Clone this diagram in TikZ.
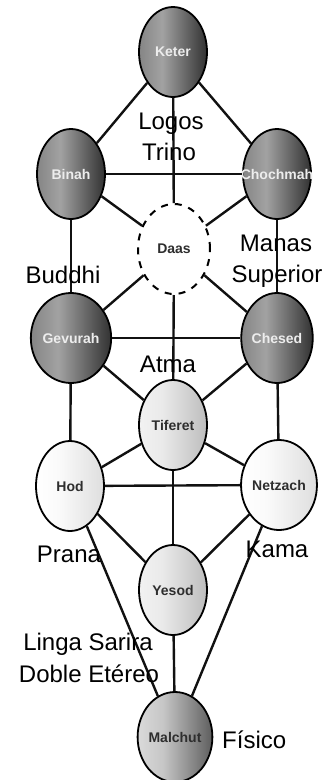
\documentclass[tikz,border=0pt]{standalone}
\usepackage{fontspec}
\setmainfont{Liberation Sans}
\usetikzlibrary{shapes.geometric}
\definecolor{dA}{HTML}{858585}
\definecolor{dB}{HTML}{A2A2A2}
\definecolor{dC}{HTML}{323232}
\definecolor{lA}{HTML}{F2F2F2}
\definecolor{lB}{HTML}{EAEAEA}
\definecolor{lC}{HTML}{BDBDBD}
\definecolor{wA}{HTML}{FFFFFF}
\definecolor{wB}{HTML}{FAFAFA}
\definecolor{wC}{HTML}{DEDEDE}
\definecolor{mA}{HTML}{DADADA}
\definecolor{mB}{HTML}{C6C6C6}
\definecolor{mC}{HTML}{5E5E5E}
\definecolor{inkline}{HTML}{111111}
\definecolor{txtlight}{HTML}{EDEDED}
\definecolor{txtdark}{HTML}{2E2E2E}
\pgfdeclarehorizontalshading{darkS}{100bp}{color(0bp)=(dA); color(25bp)=(dA); color(42bp)=(dB); color(75bp)=(dC); color(100bp)=(dC)}
\pgfdeclarehorizontalshading{lightS}{100bp}{color(0bp)=(lA); color(25bp)=(lA); color(42bp)=(lB); color(75bp)=(lC); color(100bp)=(lC)}
\pgfdeclarehorizontalshading{whiteS}{100bp}{color(0bp)=(wA); color(25bp)=(wA); color(42bp)=(wB); color(75bp)=(wC); color(100bp)=(wC)}
\pgfdeclarehorizontalshading{midS}{100bp}{color(0bp)=(mA); color(25bp)=(mA); color(42bp)=(mB); color(75bp)=(mC); color(100bp)=(mC)}
\tikzset{
  sefira/.style={ellipse, draw=black, line width=1.8pt, minimum width=68pt, minimum height=90pt, inner sep=0pt,
    font=\bfseries\fontsize{14}{16}\selectfont},
  darkball/.style={sefira, shading=darkS, text=txtlight},
  lightball/.style={sefira, shading=lightS, text=txtdark},
  whiteball/.style={sefira, shading=whiteS, text=txtdark},
  midball/.style={sefira, shading=midS, text=txtdark},
  hidden/.style={ellipse, draw=black, line width=2pt, dash pattern=on 7pt off 7pt, fill=white,
    minimum width=72pt, minimum height=90pt, inner sep=0pt, text=txtdark, font=\bfseries\fontsize{14}{16}\selectfont},
  path/.style={draw=inkline, line width=2.4pt},
  lbl/.style={anchor=base, inner sep=0pt, font=\fontsize{24}{28}\selectfont, text=black}
}
\begin{document}
\begin{tikzpicture}[x=1pt,y=-1pt]
\useasboundingbox[fill=white] (0,0) rectangle (330,780);
% nodes
\node[darkball] (keter) at (173,52) {Keter};
\node[darkball] (binah) at (71,174) {Binah};
\node[darkball] (chochmah) at (277,174) {\makebox[40pt][c]{Chochmah}};
\node[hidden] (daas) at (174,249) {Daas};
\node[darkball] (gevurah) at (71,338) {Gevurah};
\node[darkball] (chesed) at (277,338) {Chesed};
\node[lightball] (tiferet) at (173,425) {Tiferet};
\node[whiteball] (hod) at (70,486) {Hod};
\node[whiteball] (netzach) at (279,485) {Netzach};
\node[lightball] (yesod) at (173,590) {Yesod};
\node[midball, minimum width=64pt] (malchut) at (175,737) {Malchut};
% connectors
\draw[path] (keter) -- (binah);
\draw[path] (keter) -- (chochmah);
\draw[path] (keter) -- (daas);
\draw[path] (binah) -- (chochmah);
\draw[path] (binah) -- (daas);
\draw[path] (chochmah) -- (daas);
\draw[path] (binah) -- (gevurah);
\draw[path] (chochmah) -- (chesed);
\draw[path] (daas) -- (gevurah);
\draw[path] (daas) -- (chesed);
\draw[path] (daas) -- (tiferet);
\draw[path] (gevurah) -- (chesed);
\draw[path] (gevurah) -- (tiferet);
\draw[path] (chesed) -- (tiferet);
\draw[path] (gevurah) -- (hod);
\draw[path] (chesed) -- (netzach);
\draw[path] (tiferet) -- (hod);
\draw[path] (tiferet) -- (netzach);
\draw[path] (hod) -- (netzach);
\draw[path] (tiferet) -- (yesod);
\draw[path] (hod) -- (yesod);
\draw[path] (netzach) -- (yesod);
\draw[path] (hod) -- (malchut);
\draw[path] (netzach) -- (malchut);
\draw[path] (yesod) -- (malchut);
% labels
\node[lbl] (logos) at (171,129) {Logos};
\node[lbl] (trino) at (169,160) {Trino};
\node[lbl] (manas) at (276,251) {Manas};
\node[lbl] (superior) at (277,282) {Superior};
\node[lbl] (buddhi) at (63,283) {Buddhi};
\node[lbl] (atma) at (168,372) {Atma};
\node[lbl] (prana) at (69,562) {Prana};
\node[lbl] (kama) at (277,557) {Kama};
\node[lbl] (linga) at (88,650) {Linga Sarira};
\node[lbl] (doble) at (89,682) {Doble Etéreo};
\node[lbl, anchor=base west] (fisico) at (222,748) {Físico};
\end{tikzpicture}
\end{document}
